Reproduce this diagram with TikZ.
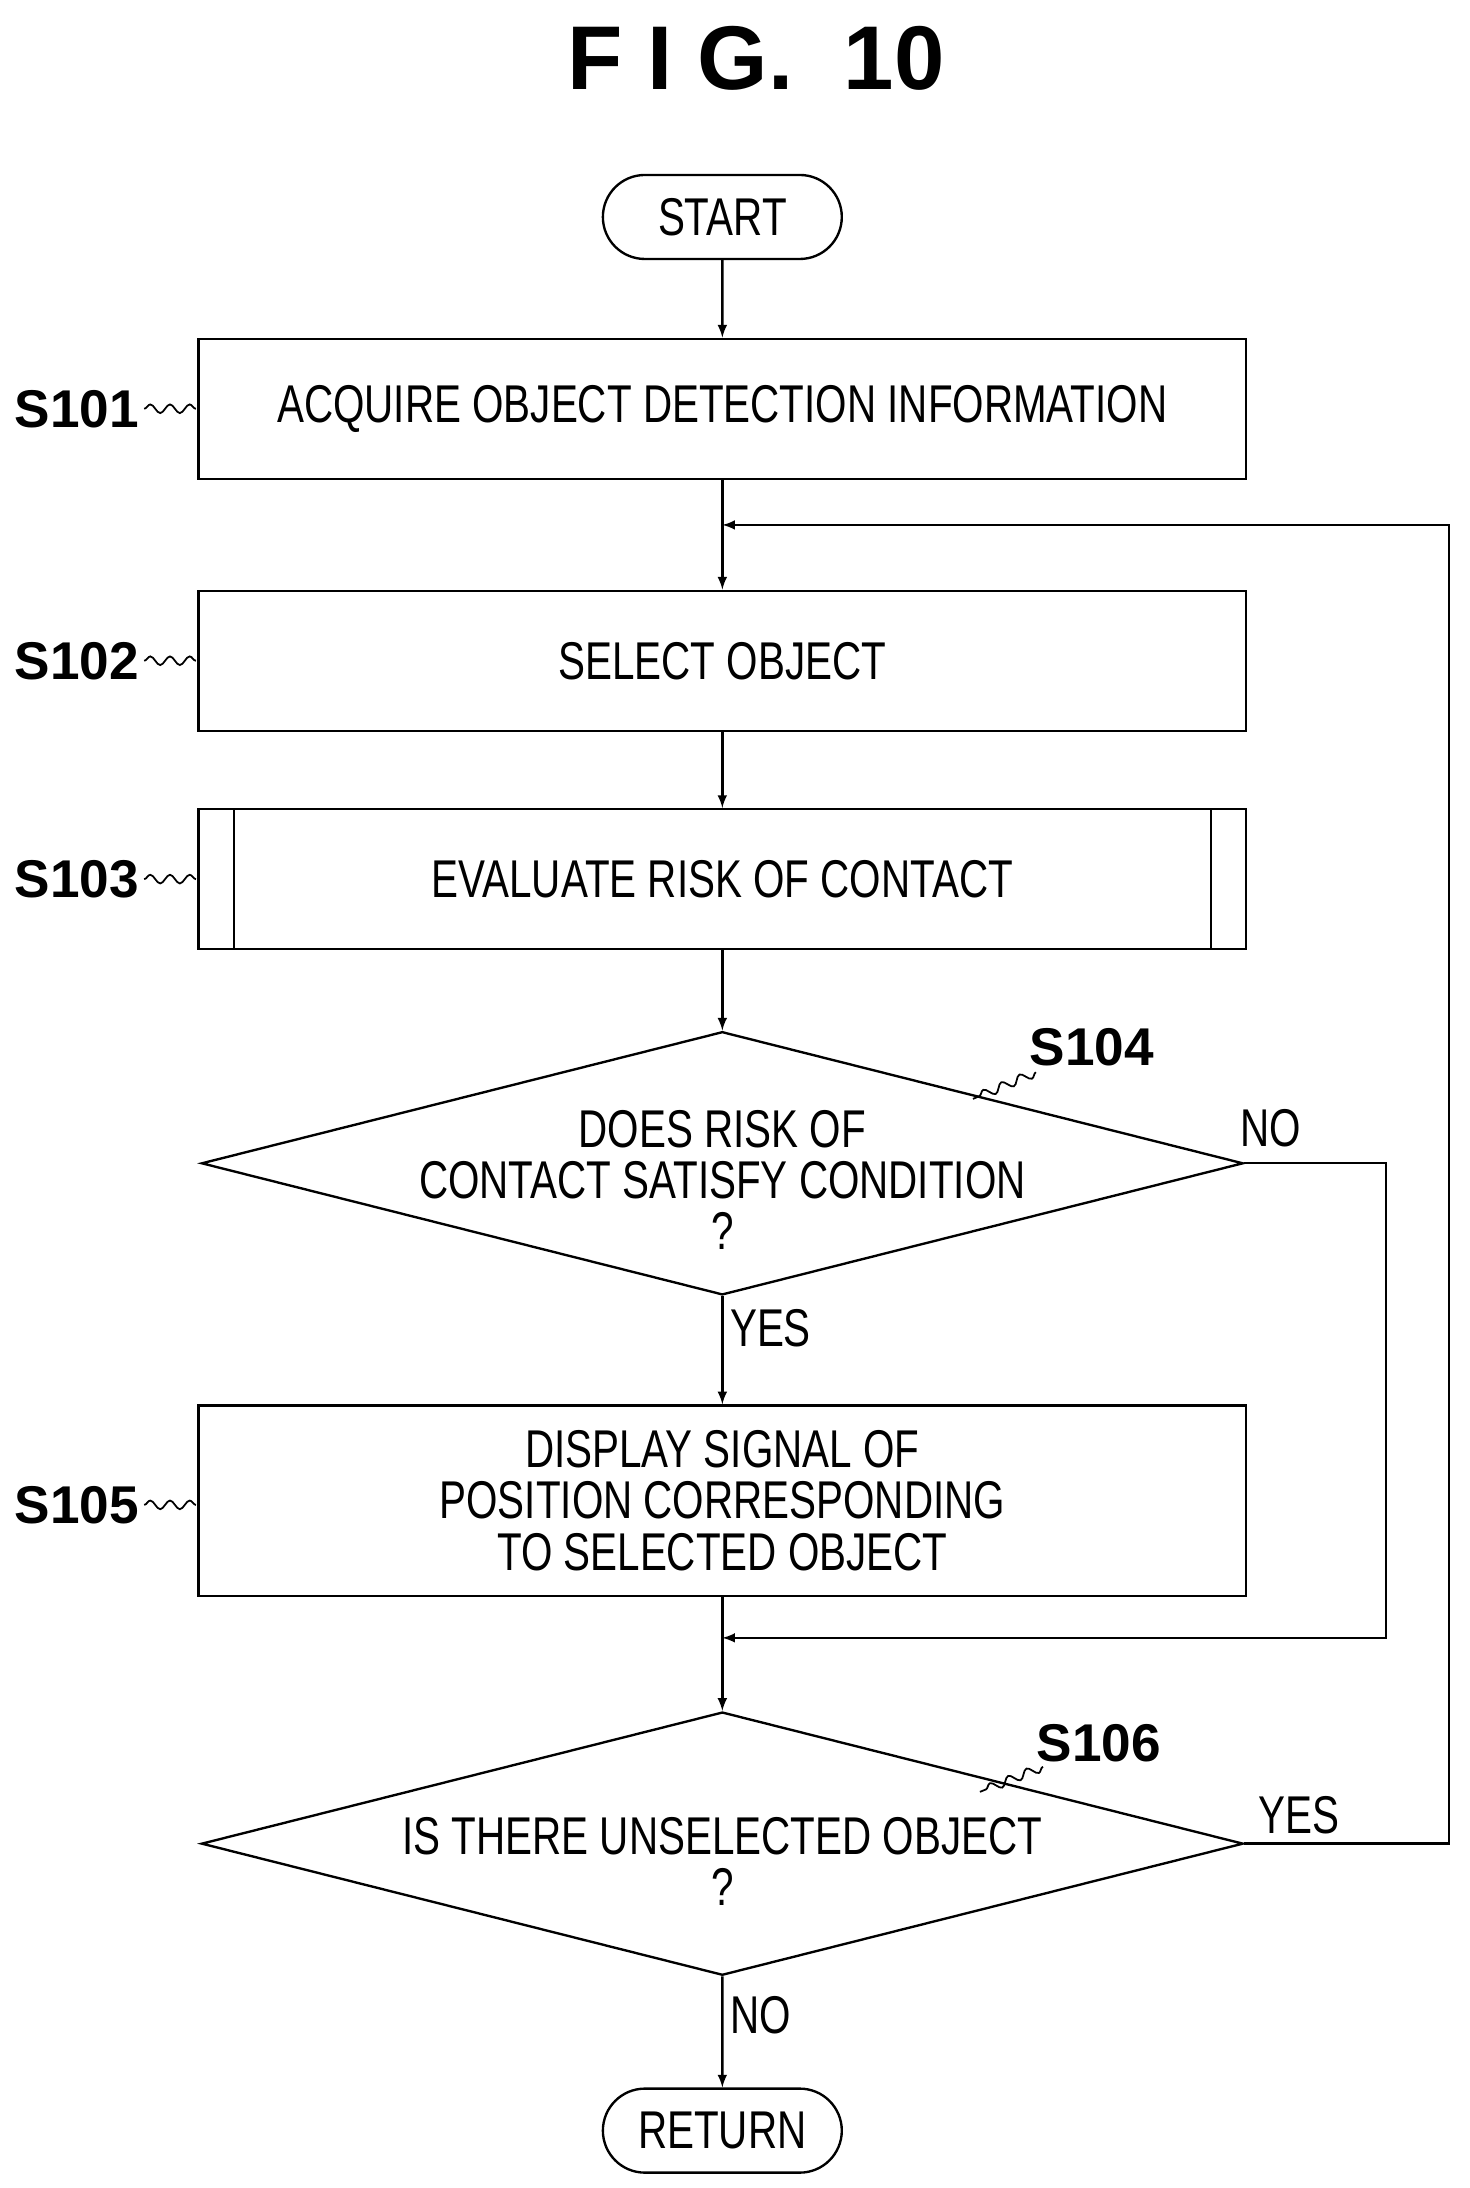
\documentclass[tikz,border=0pt]{standalone}
\usepackage{fontspec}
\setmainfont[FakeStretch=0.76]{Liberation Sans}
\newfontfamily\titlefont{Liberation Sans}
\usetikzlibrary{arrows,positioning,shapes,shapes.geometric,calc,decorations.pathmorphing}

\tikzset{
  box/.style={rectangle, draw, line width=1.2pt, minimum width=18.7cm, minimum height=2.5cm, align=center, font=\fontsize{27}{26}\selectfont},
  term/.style={rounded rectangle, draw, line width=1.2pt, minimum width=4.5cm, minimum height=1.5cm, font=\fontsize{27}{26}\selectfont},
  dia/.style={diamond, draw, line width=1.2pt, minimum width=18.6cm, minimum height=4.7cm, inner sep=0pt},
  txt/.style={align=center, font=\fontsize{27}{26}\selectfont},
  steplab/.style={font=\titlefont\bfseries\fontsize{27}{32}\selectfont},
  wave/.style={line width=0.9pt, decorate, decoration={snake, amplitude=2.2pt, segment length=10pt}},
  flow/.style={draw, line width=1.2pt, -latex},
}

\begin{document}
\begin{tikzpicture}[x=0.025cm, y=-0.025cm]
        \useasboundingbox (0,0) rectangle (1050,1563);
        %title
        \node[font=\titlefont\bfseries\fontsize{46}{50}\selectfont] (title) at (540,42) {F I G.\ \ 10};
        %nodes
        \node[term] (start) at (516,155) {START};
        \node[box] (s101) at (516,292) {ACQUIRE OBJECT DETECTION INFORMATION};
        \node[box] (s102) at (516,472) {SELECT OBJECT};
        \node[box] (s103) at (516,628) {EVALUATE RISK OF CONTACT};
        \draw[line width=1.2pt] (167,578) -- (167,678) (865,578) -- (865,678);
        \node[dia] (s104) at (516,831) {};
        \node[txt] (s104t) at (516,843) {DOES RISK OF\\CONTACT SATISFY CONDITION\\?};
        \node[box, minimum height=3.4cm] (s105) at (516,1072) {DISPLAY SIGNAL OF\\POSITION CORRESPONDING\\TO SELECTED OBJECT};
        \node[dia] (s106) at (516,1317) {};
        \node[txt] (s106t) at (516,1330) {IS THERE UNSELECTED OBJECT\\?};
        \node[term] (ret) at (516,1522) {RETURN};
        %joins
        \coordinate (j1) at (516,375);
        \coordinate (j2) at (516,1170);
        \coordinate (r1) at (1035,1317);
        \coordinate (r2) at (1035,375);
        \coordinate (n1) at (990,831);
        \coordinate (n2) at (990,1170);
        %step labels
        \foreach \name/\lab/\y in {s101/S101/292, s102/S102/472, s103/S103/628, s105/S105/1075}{
          \node[steplab] (l\name) at (55,\y) {\lab};
          \draw[wave] (103,\y) -- (140,\y);
        }
        \node[steplab] (ls104) at (780,748) {S104};
        \draw[wave] (740,766) -- (695,785);
        \node[steplab] (ls106) at (785,1245) {S106};
        \draw[wave] (745,1262) -- (700,1280);
        %edges
        \path [flow] (start) -- (s101);
        \path [flow] (s101) -- (s102);
        \path [flow] (s102) -- (s103);
        \path [flow] (s103) -- (s104);
        \path [flow] (s104) -- node[txt, right, pos=0.3]{YES} (s105);
        \path [flow] (s105) -- (s106);
        \path [flow] (s106) -- node[txt, right, pos=0.35]{NO} (ret);
        \path [flow] (s104.east) -- (n1) -- (n2) -- (j2);
        \path [flow] (s106.east) -- (r1) -- (r2) -- (j1);
        \node[txt] (no1) at (908,806) {NO};
        \node[txt] (yes2) at (928,1297) {YES};
      \end{tikzpicture}
\end{document}
